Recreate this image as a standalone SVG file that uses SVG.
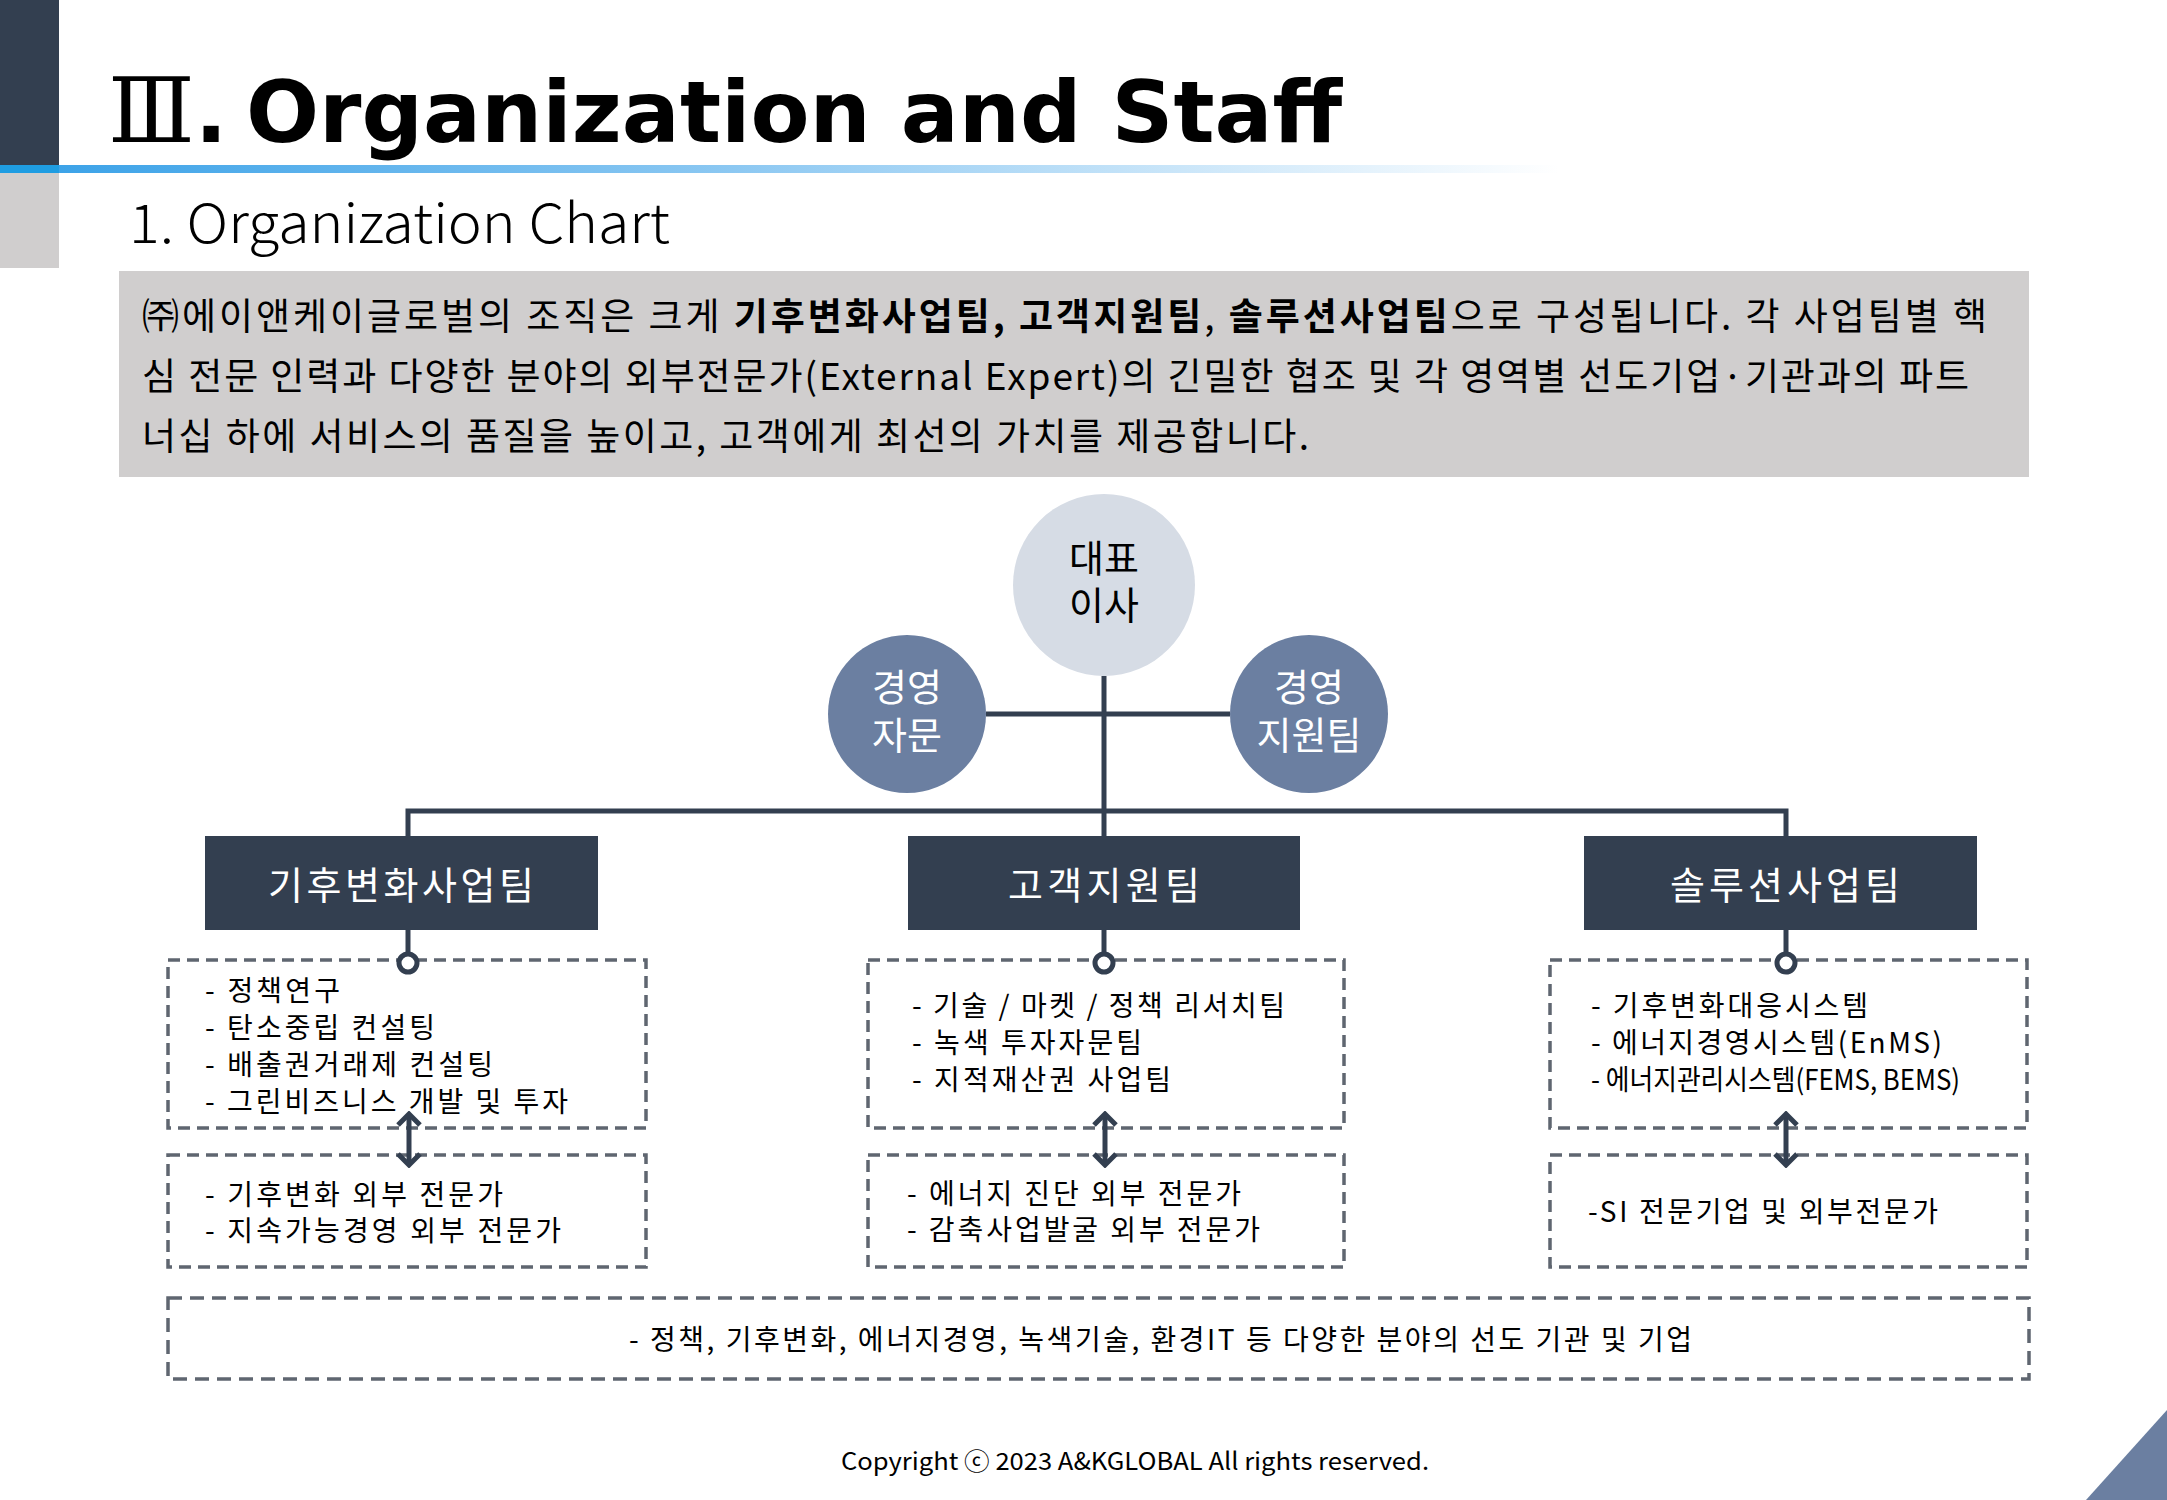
<svg xmlns="http://www.w3.org/2000/svg" width="2167" height="1500" viewBox="0 0 2167 1500">
<defs>
<style>
.kr{font-family:"Noto Sans CJK KR","Noto Sans",sans-serif;}
.body{font-size:37px;fill:#000;}
.team{font-size:38px;fill:#fff;}
.item{font-size:28px;fill:#000;}
.circ{font-size:38px;text-anchor:middle;}
.dash{fill:#fff;stroke:#5F6670;stroke-width:3.5;stroke-dasharray:12 7;}
.conn{stroke:#333F50;stroke-width:5;fill:none;}
</style>
<linearGradient id="bl" x1="0" y1="0" x2="1" y2="0">
<stop offset="0" stop-color="#3DA3E8"/>
<stop offset="0.45" stop-color="#8CC8F2"/>
<stop offset="1" stop-color="#FFFFFF"/>
</linearGradient>
<marker id="chev" markerUnits="userSpaceOnUse" viewBox="0 0 16 26" markerWidth="16" markerHeight="26" refX="13" refY="13" orient="auto-start-reverse">
<path d="M2,2 L13,13 L2,24" fill="none" stroke="#333F50" stroke-width="5"/>
</marker>
</defs>
<rect width="2167" height="1500" fill="#fff"/>

<g id="header">
<rect x="0" y="0" width="59" height="165" fill="#333F50"/>
<rect x="0" y="173" width="59" height="95" fill="#D0CECE"/>
<rect x="0" y="165" width="59" height="8" fill="#1F9DE2"/>
<rect x="59" y="165" width="1500" height="8" fill="url(#bl)"/>
<text x="108" y="142" font-size="86" fill="#000"><tspan font-family="DejaVu Serif,Noto Sans CJK KR,serif" font-size="90">Ⅲ</tspan><tspan font-family="DejaVu Sans,sans-serif" font-weight="bold">.</tspan><tspan x="246" font-family="DejaVu Sans,sans-serif" font-weight="bold">Organization and Staff</tspan></text>
<text class="kr" x="129" y="243" font-size="54" font-weight="300" textLength="541" lengthAdjust="spacingAndGlyphs">1. Organization Chart</text>
</g>

<g id="intro">
<rect x="119" y="271" width="1910" height="206" fill="#D0CECE"/>
<text class="kr body" x="142" y="330" textLength="1845" lengthAdjust="spacing">㈜에이앤케이글로벌의 조직은 크게 <tspan font-weight="bold">기후변화사업팀, 고객지원팀</tspan>, <tspan font-weight="bold">솔루션사업팀</tspan>으로 구성됩니다.  각 사업팀별 핵</text>
<text class="kr body" x="142" y="390" textLength="1827" lengthAdjust="spacing">심 전문 인력과 다양한 분야의 외부전문가(External Expert)의 긴밀한 협조 및 각 영역별 선도기업·기관과의 파트</text>
<text class="kr body" x="142" y="450" textLength="1167" lengthAdjust="spacing">너십 하에 서비스의 품질을 높이고, 고객에게 최선의 가치를 제공합니다.</text>
</g>

<g id="ceo">
<circle cx="1104" cy="585" r="91" fill="#D6DCE5"/>
<text class="kr circ" fill="#000"><tspan x="1104" y="572">대표</tspan><tspan x="1104" y="619">이사</tspan></text>
</g>
<g id="advisory">
<circle cx="907" cy="714" r="79" fill="#6B7FA1"/>
<text class="kr circ" fill="#fff"><tspan x="907" y="701">경영</tspan><tspan x="907" y="749">자문</tspan></text>
</g>
<g id="support">
<circle cx="1309" cy="714" r="79" fill="#6B7FA1"/>
<text class="kr circ" fill="#fff"><tspan x="1309" y="701">경영</tspan><tspan x="1309" y="749">지원팀</tspan></text>
</g>

<g id="team-climate">
<rect x="205" y="836" width="393" height="94" fill="#333F50"/>
<text class="kr team" x="268" y="899" textLength="266" lengthAdjust="spacing">기후변화사업팀</text>
</g>
<g id="team-customer">
<rect x="908" y="836" width="392" height="94" fill="#333F50"/>
<text class="kr team" x="1008" y="899" textLength="192" lengthAdjust="spacing">고객지원팀</text>
</g>
<g id="team-solution">
<rect x="1584" y="836" width="393" height="94" fill="#333F50"/>
<text class="kr team" x="1670" y="899" textLength="230" lengthAdjust="spacing">솔루션사업팀</text>
</g>

<g id="climate-tasks">
<rect class="dash" x="168" y="960" width="478" height="168"/>
<text class="kr item" x="205" y="1001" textLength="135" lengthAdjust="spacing">- 정책연구</text>
<text class="kr item" x="205" y="1038" textLength="230" lengthAdjust="spacing">- 탄소중립 컨설팅</text>
<text class="kr item" x="205" y="1075" textLength="288" lengthAdjust="spacing">- 배출권거래제 컨설팅</text>
<text class="kr item" x="205" y="1112" textLength="363" lengthAdjust="spacing">- 그린비즈니스 개발 및 투자</text>
</g>
<g id="climate-experts">
<rect class="dash" x="168" y="1155" width="478" height="112"/>
<text class="kr item" x="205" y="1205" textLength="298" lengthAdjust="spacing">- 기후변화 외부 전문가</text>
<text class="kr item" x="205" y="1241" textLength="356" lengthAdjust="spacing">- 지속가능경영 외부 전문가</text>
</g>

<g id="customer-tasks">
<rect class="dash" x="868" y="960" width="476" height="168"/>
<text class="kr item" x="912" y="1016" textLength="373" lengthAdjust="spacing">- 기술 / 마켓 / 정책 리서치팀</text>
<text class="kr item" x="912" y="1053" textLength="230" lengthAdjust="spacing">- 녹색 투자자문팀</text>
<text class="kr item" x="912" y="1090" textLength="259" lengthAdjust="spacing">- 지적재산권 사업팀</text>
</g>
<g id="customer-experts">
<rect class="dash" x="868" y="1155" width="476" height="112"/>
<text class="kr item" x="907" y="1204" textLength="334" lengthAdjust="spacing">- 에너지 진단 외부 전문가</text>
<text class="kr item" x="907" y="1240" textLength="353" lengthAdjust="spacing">- 감축사업발굴 외부 전문가</text>
</g>

<g id="solution-tasks">
<rect class="dash" x="1550" y="960" width="477" height="168"/>
<text class="kr item" x="1591" y="1016" textLength="277" lengthAdjust="spacing">- 기후변화대응시스템</text>
<text class="kr item" x="1591" y="1053" textLength="351" lengthAdjust="spacing">- 에너지경영시스템(EnMS)</text>
<text class="kr item" x="1591" y="1090" textLength="369" lengthAdjust="spacingAndGlyphs">- 에너지관리시스템(FEMS, BEMS)</text>
</g>
<g id="solution-experts">
<rect class="dash" x="1550" y="1155" width="477" height="112"/>
<text class="kr item" x="1588" y="1222" textLength="350" lengthAdjust="spacing">-SI 전문기업 및 외부전문가</text>
</g>

<g id="partners">
<rect class="dash" x="168" y="1298" width="1861" height="81" style="stroke-dasharray:14 8"/>
<text class="kr item" x="629" y="1350" textLength="1063" lengthAdjust="spacing">- 정책, 기후변화, 에너지경영, 녹색기술, 환경IT 등 다양한 분야의 선도 기관 및 기업</text>
</g>

<g id="connectors">
<line class="conn" x1="1104" y1="676" x2="1104" y2="836"/>
<line class="conn" x1="986" y1="714" x2="1230" y2="714"/>
<polyline class="conn" points="408,836 408,811 1786,811 1786,836"/>
<line class="conn" x1="408" y1="930" x2="408" y2="953"/>
<line class="conn" x1="1104" y1="930" x2="1104" y2="953"/>
<line class="conn" x1="1786" y1="930" x2="1786" y2="953"/>
<circle cx="408" cy="963" r="9" fill="#fff" stroke="#333F50" stroke-width="5"/>
<circle cx="1104" cy="963" r="9" fill="#fff" stroke="#333F50" stroke-width="5"/>
<circle cx="1786" cy="963" r="9" fill="#fff" stroke="#333F50" stroke-width="5"/>
<line class="conn" x1="409" y1="1114" x2="409" y2="1165" marker-start="url(#chev)" marker-end="url(#chev)"/>
<line class="conn" x1="1105" y1="1114" x2="1105" y2="1165" marker-start="url(#chev)" marker-end="url(#chev)"/>
<line class="conn" x1="1786" y1="1114" x2="1786" y2="1165" marker-start="url(#chev)" marker-end="url(#chev)"/>
</g>

<g id="footer">
<text class="kr" x="841" y="1470" font-size="24" fill="#000" textLength="588" lengthAdjust="spacingAndGlyphs">Copyright ⓒ 2023 A&amp;KGLOBAL All rights reserved.</text>
<polygon points="2167,1410 2086,1500 2167,1500" fill="#6B7FA1"/>
</g>
</svg>
